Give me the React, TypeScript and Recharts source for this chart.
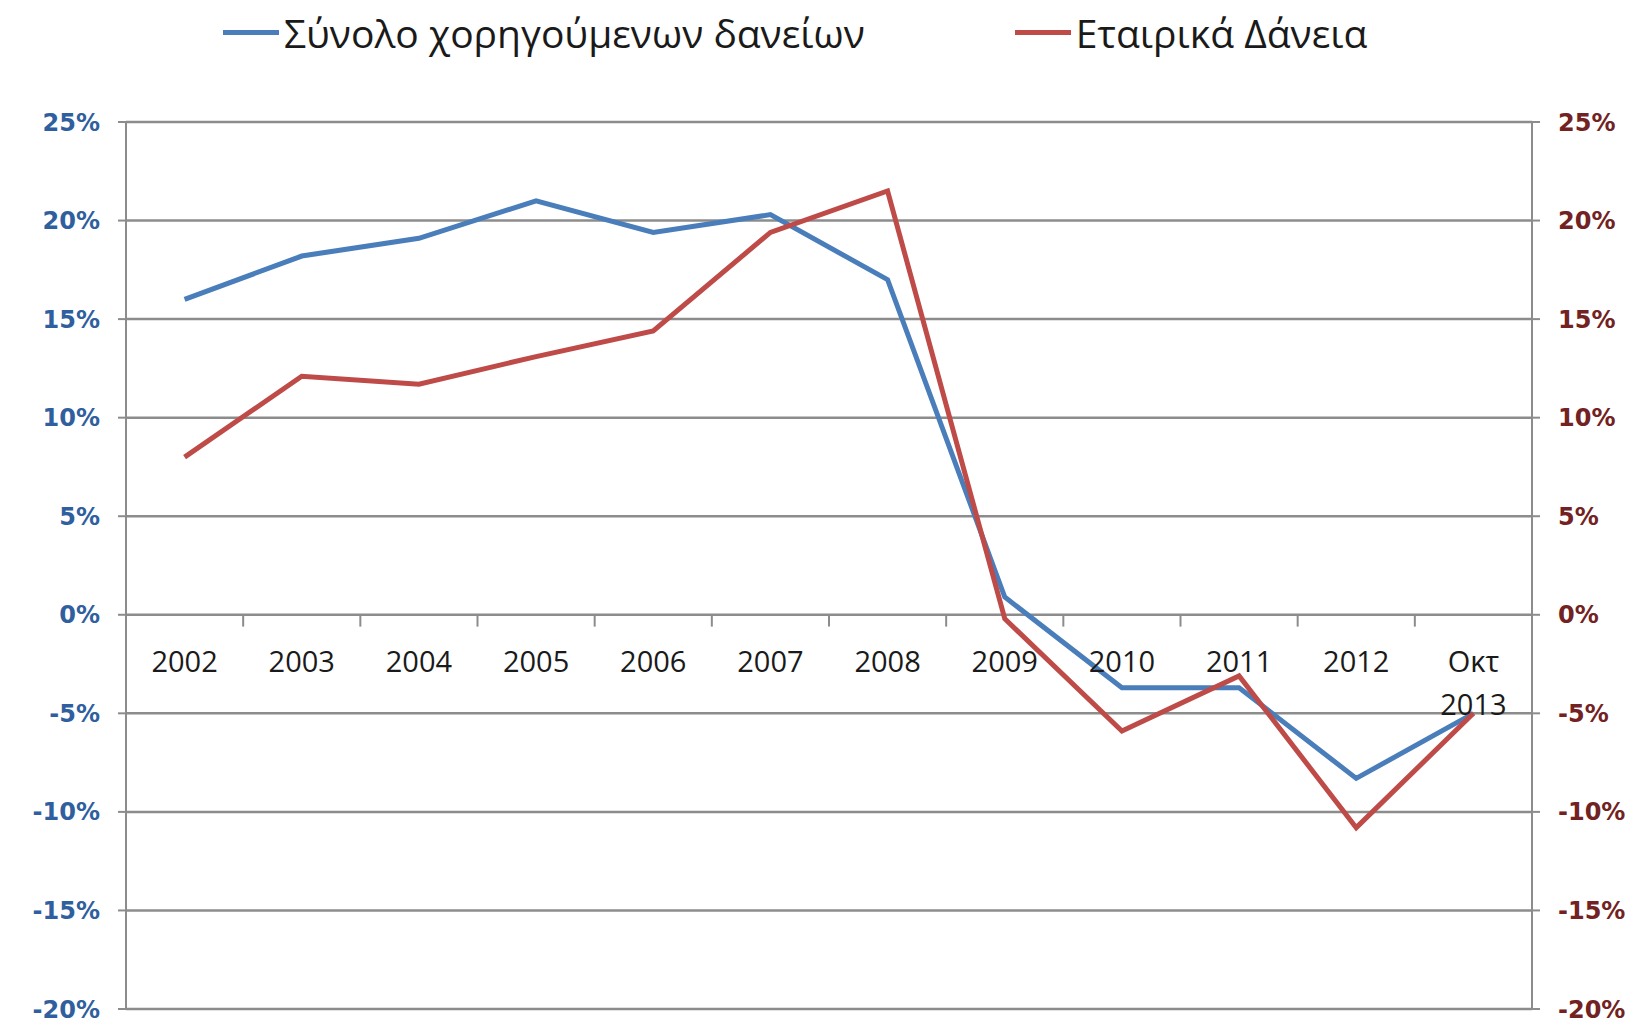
import {
  CartesianGrid,
  Legend,
  Line,
  LineChart,
  ReferenceDot,
  ReferenceLine,
  XAxis,
  YAxis,
} from "recharts";

const categories = [
  "2002",
  "2003",
  "2004",
  "2005",
  "2006",
  "2007",
  "2008",
  "2009",
  "2010",
  "2011",
  "2012",
  "Οκτ 2013",
];

// Σύνολο χορηγούμενων δανείων (left axis)
const totalLoans = [16.0, 18.2, 19.1, 21.0, 19.4, 20.3, 17.0, 0.9, -3.7, -3.7, -8.3, -5.0];
// Εταιρικά Δάνεια (right axis)
const corporateLoans = [8.0, 12.1, 11.7, 13.1, 14.4, 19.4, 21.5, -0.2, -5.9, -3.1, -10.8, -5.0];

const yTicks = [-20, -15, -10, -5, 0, 5, 10, 15, 20, 25];

const series = [
  { key: "total", name: "Σύνολο χορηγούμενων δανείων", color: "#4a7ebb" },
  { key: "corp", name: "Εταιρικά Δάνεια", color: "#be4b48" },
];

const data = categories.map((c, i) => ({
  i,
  label: c,
  total: totalLoans[i],
  corp: corporateLoans[i],
}));

const GRID = "#8c8c8c";

function LegendBox() {
  return (
    <div
      style={{
        height: 64,
        display: "flex",
        alignItems: "center",
        paddingLeft: 223,
        gap: 150,
        fontFamily: "'Open Sans', sans-serif",
        fontSize: 39,
        color: "#1a1a1a",
      }}
    >
      {series.map((s) => (
        <div key={s.key} style={{ display: "flex", alignItems: "center" }}>
          <span
            style={{
              display: "inline-block",
              width: 56,
              height: 5,
              background: s.color,
              marginRight: 5,
            }}
          />
          <span>{s.name}</span>
        </div>
      ))}
    </div>
  );
}

function CatLabel(props: any) {
  const { viewBox, value } = props;
  const cx = viewBox.x + viewBox.width / 2;
  const cy = viewBox.y + viewBox.height / 2;
  const parts = String(value).split(" ");
  return (
    <text
      x={cx}
      y={cy + 57}
      textAnchor="middle"
      fontFamily="'Open Sans', sans-serif"
      fontSize={29}
      fill="#1a1a1a"
    >
      {parts.map((p, k) => (
        <tspan key={k} x={cx} dy={k === 0 ? 0 : 43}>
          {p}
        </tspan>
      ))}
    </text>
  );
}

export default function App() {
  return (
    <div
      style={{
        position: "absolute",
        left: 0,
        top: 0,
        width: 1650,
        height: 1027,
        background: "#fff",
      }}
    >
      <LineChart
        width={1650}
        height={1027}
        data={data}
        margin={{ top: 58, right: 0, bottom: 18, left: 0 }}
      >
        <Legend
          verticalAlign="top"
          wrapperStyle={{ top: 0, left: 0, width: 1650 }}
          content={() => <LegendBox />}
        />
        <CartesianGrid
          vertical={false}
          stroke={GRID}
          strokeWidth={2.5}
          yAxisId="left"
          horizontalValues={yTicks}
        />
        <XAxis
          dataKey="i"
          type="number"
          domain={[-0.5, 11.5]}
          hide
        />
        <YAxis
          yAxisId="left"
          domain={[-20, 25]}
          ticks={yTicks}
          interval={0}
          width={126}
          tickFormatter={(v) => `${v}%`}
          stroke={GRID}
          strokeWidth={2}
          tickSize={8}
          tickMargin={18}
          tick={{
            fill: "#2f5f9e",
            fontFamily: "'DejaVu Sans', sans-serif",
            fontWeight: "bold",
            fontSize: 24,
          }}
        />
        <YAxis
          yAxisId="right"
          orientation="right"
          domain={[-20, 25]}
          ticks={yTicks}
          interval={0}
          width={118}
          tickFormatter={(v) => `${v}%`}
          stroke={GRID}
          strokeWidth={2}
          tickSize={8}
          tickMargin={18}
          tick={{
            fill: "#722222",
            fontFamily: "'DejaVu Sans', sans-serif",
            fontWeight: "bold",
            fontSize: 24,
          }}
        />
        {categories.slice(1).map((_, k) => (
          <ReferenceLine
            key={"t" + k}
            yAxisId="left"
            segment={[
              { x: k + 0.5, y: 0 },
              { x: k + 0.5, y: -0.6 },
            ]}
            stroke={GRID}
            strokeWidth={2}
          />
        ))}
        {categories.map((c, k) => (
          <ReferenceDot
            key={"c" + k}
            yAxisId="left"
            x={k}
            y={0}
            r={1}
            fill="none"
            stroke="none"
            label={<CatLabel value={c} />}
          />
        ))}
        <Line
          yAxisId="left"
          dataKey="total"
          name={series[0].name}
          stroke={series[0].color}
          strokeWidth={5}
          dot={false}
          type="linear"
          isAnimationActive={false}
        />
        <Line
          yAxisId="right"
          dataKey="corp"
          name={series[1].name}
          stroke={series[1].color}
          strokeWidth={5}
          dot={false}
          type="linear"
          isAnimationActive={false}
        />
      </LineChart>
    </div>
  );
}
